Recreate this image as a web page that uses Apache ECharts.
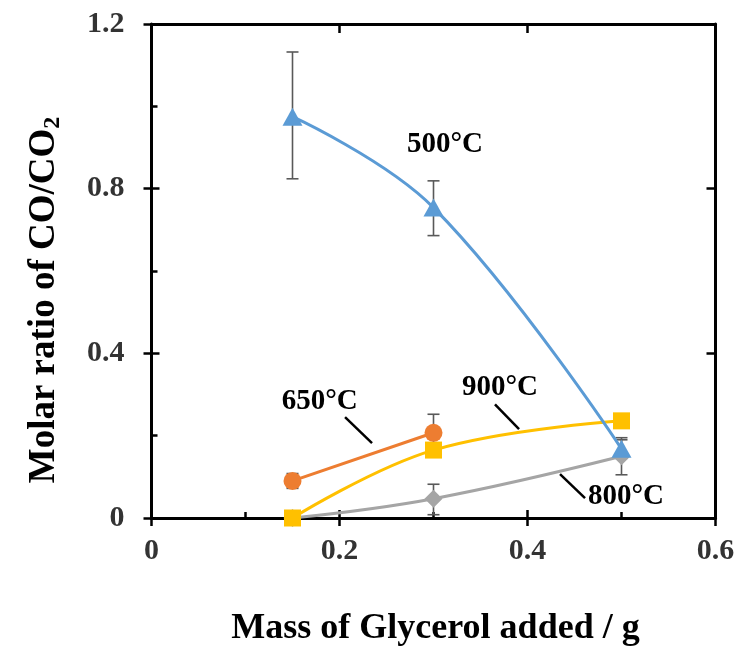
<!DOCTYPE html>
<html>
<head>
<meta charset="utf-8">
<script src="https://cdn.jsdelivr.net/npm/echarts@6/dist/echarts.min.js"></script>
<style>html,body{margin:0;padding:0;background:#fff}#c{width:739px;height:652px}</style>
</head>
<body>
<div id="c"></div>
<script>
// ---- data ----
const xVals = [0.15, 0.3, 0.5];
const s500 = [0.975, 0.754, 0.168];
const e500Low = [0.824, 0.686, 0.145];
const e500High = [1.132, 0.819, 0.19];
const x650 = [0.15, 0.3];
const s650 = [0.09, 0.207];
const e650Low = [0.072, 0.162];
const e650High = [0.108, 0.252];
const s900 = [0.0, 0.165, 0.236];
const s800 = [0.0, 0.047, 0.15];
const x800Err = [0.3, 0.5];
const e800Low = [0.008, 0.105];
const e800High = [0.082, 0.195];
const xTicks = [0, 0.2, 0.4, 0.6];
const yTicks = [0, 0.4, 0.8, 1.2];
const labelTexts = ['500°C', '650°C', '900°C', '800°C'];
const labelPos = [[0.3122, 0.907], [0.179, 0.284], [0.3707, 0.318], [0.5048, 0.0533]];
const leaders = [[0.2059, 0.245, 0.2346, 0.182], [0.3654, 0.276, 0.391, 0.216], [0.4346, 0.1067, 0.4612, 0.0485]];

const FONT = '"Liberation Serif", "Times New Roman", serif';
const zip = (xs, ys) => xs.map((x, i) => [x, ys[i]]);
const errData = [];
xVals.forEach((x, i) => errData.push([x, e500Low[i], e500High[i]]));
x650.forEach((x, i) => errData.push([x, e650Low[i], e650High[i]]));
x800Err.forEach((x, i) => errData.push([x, e800Low[i], e800High[i]]));

const axisCommon = { type: 'value', min: 0, splitLine: { show: false } };
const lineStyleAxis = { color: '#000', width: 3 };
const tickStyle = { color: '#000', width: 2.5 };

const option = {
  animation: false,
  backgroundColor: '#fff',
  grid: { left: 151.5, right: 23.5, top: 24, bottom: 133, containLabel: false },
  xAxis: [
    Object.assign({}, axisCommon, {
      max: 0.6, interval: 0.2, position: 'bottom',
      axisLine: { show: true, lineStyle: lineStyleAxis, onZero: false },
      axisTick: { show: true, inside: true, length: 8, lineStyle: tickStyle },
      minorTick: { show: true, splitNumber: 2, length: 6, lineStyle: tickStyle },
      axisLabel: { show: true, margin: 18, fontFamily: FONT, fontWeight: 'bold', fontSize: 30, color: '#333',
        formatter: v => String(v) },
      name: 'Mass of Glycerol added / g', nameLocation: 'middle', nameGap: 93,
      nameTextStyle: { fontFamily: FONT, fontWeight: 'bold', fontSize: 36, color: '#000', padding: [0, 0, 0, 4] }
    }),
    Object.assign({}, axisCommon, {
      max: 0.6, interval: 0.2, position: 'bottom',
      axisLine: { show: false, onZero: false },
      axisTick: { show: true, inside: false, length: 8, lineStyle: tickStyle },
      axisLabel: { show: false }
    }),
    Object.assign({}, axisCommon, {
      max: 0.6, interval: 0.2, position: 'top',
      axisLine: { show: true, lineStyle: lineStyleAxis, onZero: false },
      axisTick: { show: true, inside: true, length: 9, lineStyle: tickStyle },
      axisLabel: { show: false }
    })
  ],
  yAxis: [
    Object.assign({}, axisCommon, {
      max: 1.2, interval: 0.4, position: 'left',
      axisLine: { show: true, lineStyle: lineStyleAxis, onZero: false },
      axisTick: { show: true, inside: true, length: 8, lineStyle: tickStyle },
      minorTick: { show: true, splitNumber: 2, length: 6, lineStyle: tickStyle },
      axisLabel: { show: true, margin: 27, fontFamily: FONT, fontWeight: 'bold', fontSize: 30, color: '#333',
        formatter: v => String(Math.round(v * 10) / 10) }
    }),
    Object.assign({}, axisCommon, {
      max: 1.2, interval: 0.4, position: 'left',
      axisLine: { show: false, onZero: false },
      axisTick: { show: true, inside: false, length: 8, lineStyle: tickStyle },
      axisLabel: { show: false }
    }),
    Object.assign({}, axisCommon, {
      max: 1.2, interval: 0.4, position: 'right',
      axisLine: { show: true, lineStyle: lineStyleAxis, onZero: false },
      axisTick: { show: true, inside: true, length: 9, lineStyle: tickStyle },
      axisLabel: { show: false }
    })
  ],
  graphic: [{
    type: 'text', x: 44, y: 300, rotation: Math.PI / 2,
    style: {
      text: '{a|Molar ratio of CO/CO}{s|2}',
      align: 'center', verticalAlign: 'middle',
      rich: {
        a: { fontFamily: FONT, fontWeight: 'bold', fontSize: 37, fill: '#000', lineHeight: 42 },
        s: { fontFamily: FONT, fontWeight: 'bold', fontSize: 24, fill: '#000', verticalAlign: 'bottom', lineHeight: 42 }
      }
    }
  }],
  series: [
    {
      type: 'custom', name: 'err', z: 3,
      data: errData,
      renderItem: function (params, api) {
        const x = api.value(0);
        const lo = api.coord([x, api.value(1)]);
        const hi = api.coord([x, api.value(2)]);
        const w = 6;
        const st = { stroke: '#595959', lineWidth: 1.6 };
        return { type: 'group', children: [
          { type: 'line', shape: { x1: lo[0], y1: lo[1], x2: hi[0], y2: hi[1] }, style: st },
          { type: 'line', shape: { x1: lo[0] - w, y1: lo[1], x2: lo[0] + w, y2: lo[1] }, style: st },
          { type: 'line', shape: { x1: hi[0] - w, y1: hi[1], x2: hi[0] + w, y2: hi[1] }, style: st }
        ]};
      }
    },
    { type: 'line', name: '800°C', data: zip(xVals, s800), smooth: 0.4, z: 4,
      symbol: 'diamond', symbolSize: 18, itemStyle: { color: '#A5A5A5' }, lineStyle: { color: '#A5A5A5', width: 3 } },
    { type: 'line', name: '900°C', data: zip(xVals, s900), smooth: 0.4, z: 4,
      symbol: 'rect', symbolSize: 17, itemStyle: { color: '#FFC000' }, lineStyle: { color: '#FFC000', width: 3 } },
    { type: 'line', name: '650°C', data: zip(x650, s650), smooth: false, z: 4,
      symbol: 'circle', symbolSize: 18, itemStyle: { color: '#ED7D31' }, lineStyle: { color: '#ED7D31', width: 3 } },
    { type: 'line', name: '500°C', data: zip(xVals, s500), smooth: 0.4, z: 5,
      symbol: 'triangle', symbolSize: [20, 18], itemStyle: { color: '#5B9BD5' }, lineStyle: { color: '#5B9BD5', width: 3 } },
    {
      type: 'custom', name: 'leaders', z: 6,
      data: leaders,
      renderItem: function (params, api) {
        const a = api.coord([api.value(0), api.value(1)]);
        const b = api.coord([api.value(2), api.value(3)]);
        return { type: 'line', shape: { x1: a[0], y1: a[1], x2: b[0], y2: b[1] }, style: { stroke: '#000', lineWidth: 2.5 } };
      }
    },
    {
      type: 'custom', name: 'labels', z: 6,
      data: labelPos.map((p, i) => [p[0], p[1], labelTexts[i]]),
      renderItem: function (params, api) {
        const p = api.coord([api.value(0), api.value(1)]);
        return { type: 'text', x: p[0], y: p[1], style: { text: labelTexts[params.dataIndex], align: 'center', verticalAlign: 'middle',
          fontFamily: FONT, fontWeight: 'bold', fontSize: 29, fill: '#000' } };
      }
    }
  ]
};
const chart = echarts.init(document.getElementById('c'), null, { renderer: 'canvas' });
chart.setOption(option);
</script>
</body>
</html>
